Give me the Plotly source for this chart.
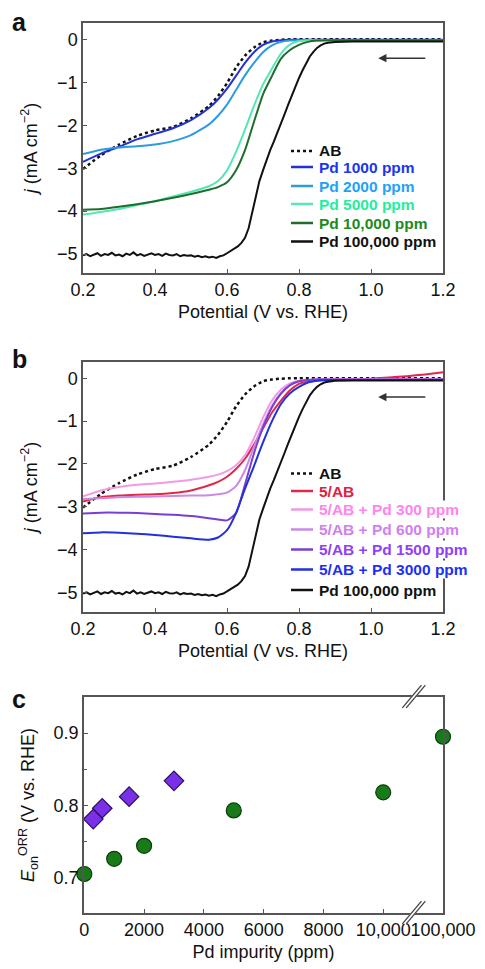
import plotly.graph_objects as go

FONT = "Liberation Sans, Arial, Helvetica, sans-serif"

# shared potential grid (V vs RHE) for the smooth LSV curves
V = [0.20, 0.25, 0.30, 0.35, 0.40, 0.45, 0.50, 0.55, 0.575, 0.60, 0.625, 0.65, 0.675,
     0.70, 0.725, 0.75, 0.775, 0.80, 0.825, 0.85, 0.875, 0.90, 0.95, 1.00, 1.05, 1.10,
     1.15, 1.20]

# panel a
j_AB = [-3.02, -2.70, -2.45, -2.25, -2.12, -2.04, -1.84, -1.55, -1.32, -1.02, -0.66, -0.38,
        -0.19, -0.07, -0.03, -0.01, 0.0, 0.0, 0.0, 0.0, 0.0, 0.0, 0.0, 0.0, 0.0, 0.0, 0.0, 0.0]
j_Pd1000 = [-2.85, -2.66, -2.50, -2.33, -2.20, -2.07, -1.88, -1.60, -1.40, -1.15, -0.85, -0.55,
            -0.30, -0.13, -0.05, -0.02, -0.01, -0.01, -0.01, -0.01, -0.01, -0.01, -0.01,
            -0.01, -0.01, -0.01, -0.01, -0.01]
j_Pd2000 = [-2.67, -2.57, -2.52, -2.49, -2.45, -2.37, -2.23, -1.98, -1.78, -1.52, -1.18, -0.84,
            -0.55, -0.30, -0.14, -0.06, -0.03, -0.02, -0.02, -0.02, -0.02, -0.02, -0.02,
            -0.02, -0.02, -0.02, -0.02, -0.02]
j_Pd5000 = [-4.08, -4.02, -3.95, -3.86, -3.77, -3.66, -3.55, -3.42, -3.30, -3.05, -2.62, -2.10,
            -1.55, -1.05, -0.68, -0.33, -0.12, -0.04, -0.02, -0.02, -0.02, -0.02, -0.02,
            -0.02, -0.02, -0.02, -0.02, -0.02]
j_Pd10000 = [-3.97, -3.95, -3.90, -3.84, -3.77, -3.69, -3.60, -3.50, -3.44, -3.33, -3.05, -2.58,
             -1.92, -1.28, -0.85, -0.45, -0.25, -0.13, -0.06, -0.03, -0.02, -0.02, -0.02,
             -0.02, -0.02, -0.02, -0.02, -0.02]

# Pd 100,000 ppm (noisy plateau, used in a and b)
V_Pd100k = [0.20, 0.21, 0.22, 0.23, 0.24, 0.25, 0.26, 0.27, 0.28, 0.29, 0.30, 0.31, 0.32, 0.33,
            0.34, 0.35, 0.36, 0.37, 0.38, 0.39, 0.40, 0.41, 0.42, 0.43, 0.44, 0.45, 0.46, 0.47,
            0.48, 0.49, 0.50, 0.51, 0.52, 0.53, 0.54, 0.55, 0.56, 0.57, 0.58, 0.59, 0.60, 0.61,
            0.62, 0.63, 0.64, 0.65, 0.66, 0.67, 0.68, 0.69, 0.70, 0.71, 0.72, 0.73, 0.74, 0.75,
            0.76, 0.77, 0.78, 0.79, 0.80, 0.81, 0.82, 0.83, 0.84, 0.85, 0.86, 0.87, 0.88, 0.90,
            0.95, 1.00, 1.10, 1.20]
j_Pd100k = [-5.03, -5.00, -5.05, -5.01, -4.98, -5.04, -5.00, -5.02, -4.97, -5.03, -5.01, -5.05,
            -4.99, -5.02, -4.96, -5.03, -5.00, -5.04, -5.01, -4.98, -5.02, -5.00, -5.04, -4.99,
            -5.02, -5.03, -5.00, -5.05, -5.02, -5.04, -5.03, -5.06, -5.04, -5.07, -5.05, -5.08,
            -5.06, -5.09, -5.05, -5.03, -4.98, -4.93, -4.88, -4.82, -4.74, -4.62, -4.40, -4.05,
            -3.65, -3.30, -3.05, -2.80, -2.58, -2.38, -2.15, -1.95, -1.74, -1.52, -1.30, -1.10,
            -0.90, -0.72, -0.55, -0.40, -0.29, -0.20, -0.14, -0.10, -0.08, -0.06, -0.05, -0.05,
            -0.05, -0.05]

# panel b
j_5AB = [-2.88, -2.78, -2.74, -2.72, -2.71, -2.68, -2.62, -2.50, -2.42, -2.30, -2.12, -1.88,
         -1.55, -1.17, -0.80, -0.52, -0.28, -0.13, -0.07, -0.05, -0.04, -0.04, -0.03, -0.01,
         0.02, 0.05, 0.09, 0.14]
j_5AB_300 = [-2.76, -2.62, -2.54, -2.49, -2.46, -2.42, -2.37, -2.30, -2.25, -2.17, -2.03, -1.80,
             -1.40, -0.92, -0.52, -0.26, -0.12, -0.06, -0.04, -0.03, -0.03, -0.02, -0.02,
             -0.02, -0.02, -0.02, -0.02, -0.02]
j_5AB_600 = [-2.82, -2.80, -2.78, -2.77, -2.76, -2.75, -2.74, -2.73, -2.71, -2.67, -2.52, -2.15,
             -1.60, -1.08, -0.64, -0.34, -0.16, -0.07, -0.04, -0.03, -0.03, -0.03, -0.03,
             -0.03, -0.03, -0.03, -0.03, -0.03]
j_5AB_1500 = [-3.16, -3.14, -3.14, -3.15, -3.17, -3.19, -3.22, -3.27, -3.30, -3.32, -3.15, -2.48,
              -1.75, -1.15, -0.68, -0.36, -0.16, -0.07, -0.04, -0.03, -0.03, -0.03, -0.03,
              -0.03, -0.03, -0.03, -0.03, -0.03]
j_5AB_3000 = [-3.62, -3.60, -3.61, -3.63, -3.66, -3.70, -3.74, -3.77, -3.72, -3.55, -3.15, -2.58,
              -2.05, -1.50, -1.00, -0.60, -0.35, -0.20, -0.10, -0.06, -0.04, -0.04, -0.04,
              -0.04, -0.04, -0.04, -0.04, -0.04]

# panel c: onset potentials
ppm_Pd = [0, 1000, 2000, 5000, 10000, 100000]
E_Pd = [0.705, 0.726, 0.744, 0.793, 0.818, 0.895]
ppm_5AB = [300, 600, 1500, 3000]
E_5AB = [0.781, 0.796, 0.812, 0.834]
c_ticks = [0, 2000, 4000, 6000, 8000, 10000, 100000]
c_ticktext = ["0", "2000", "4000", "6000", "8000", "10,000", "100,000"]


def broken_x(p):
    # axis is broken after 10,000: 100,000 sits one 2000-step further along
    return p if p <= 10000 else 12000


W, H = 485, 969

fig = go.Figure()

# (label, x, y, line colour, label colour, dash, legend row y in px)
series_a = [
    ("AB", V, j_AB, "#111111", "#111111", "dot", 151),
    ("Pd 1000 ppm", V, j_Pd1000, "#2233d6", "#1a36f0", "solid", 167),
    ("Pd 2000 ppm", V, j_Pd2000, "#2c9be0", "#1ea2f6", "solid", 186),
    ("Pd 5000 ppm", V, j_Pd5000, "#55e6b4", "#22ee9c", "solid", 204),
    ("Pd 10,000 ppm", V, j_Pd10000, "#1d6e2c", "#1c8a1c", "solid", 223),
    ("Pd 100,000 ppm", V_Pd100k, j_Pd100k, "#111111", "#111111", "solid", 241.5),
]
series_b = [
    ("AB", V, j_AB, "#111111", "#111111", "dot", 473.5),
    ("5/AB", V, j_5AB, "#e0284a", "#e0203c", "solid", 491),
    ("5/AB + Pd 300 ppm", V, j_5AB_300, "#f29ae6", "#ff84ee", "solid", 509.5),
    ("5/AB + Pd 600 ppm", V, j_5AB_600, "#c98ae4", "#d080f0", "solid", 529.5),
    ("5/AB + Pd 1500 ppm", V, j_5AB_1500, "#7a3ed2", "#9040f8", "solid", 549.5),
    ("5/AB + Pd 3000 ppm", V, j_5AB_3000, "#2030dc", "#1a30f8", "solid", 569.5),
    ("Pd 100,000 ppm", V_Pd100k, j_Pd100k, "#111111", "#111111", "solid", 590),
]

for series, xa, ya, bg in [(series_a, "x", "y", "rgba(0,0,0,0)"),
                           (series_b, "x2", "y2", "white")]:
    for name, xs, ys, col, tcol, dash, row in series:
        fig.add_trace(go.Scatter(
            x=xs, y=ys, mode="lines", showlegend=False,
            line=dict(color=col, width=2.5 if dash == "dot" else 2, dash=dash,
                      shape="linear" if xs is V_Pd100k else "spline", smoothing=0.6),
            xaxis=xa, yaxis=ya))
        # hand-made legend row: line sample + coloured bold label
        fig.add_shape(type="line", xref="paper", yref="paper", x0=291 / W, x1=313 / W,
                      y0=1 - row / H, y1=1 - row / H, layer="above",
                      line=dict(color=col, width=2.5, dash=dash))
        fig.add_annotation(x=318 / W, y=1 - row / H, xref="paper", yref="paper",
                           xanchor="left", yanchor="middle", showarrow=False,
                           text="<b>%s</b>" % name, bgcolor=bg, borderpad=0,
                           font=dict(family=FONT, size=15.5, color=tcol))

fig.add_trace(go.Scatter(
    x=[broken_x(p) for p in ppm_5AB], y=E_5AB, mode="markers", showlegend=False,
    marker=dict(symbol="diamond", size=15, color="#7a30e6",
                line=dict(color="#2a1060", width=1.2)),
    cliponaxis=False, xaxis="x3", yaxis="y3"))
fig.add_trace(go.Scatter(
    x=[broken_x(p) for p in ppm_Pd], y=E_Pd, mode="markers", showlegend=False,
    marker=dict(symbol="circle", size=15, color="#187a18",
                line=dict(color="#0b3d0b", width=1.2)),
    cliponaxis=False, xaxis="x3", yaxis="y3"))


def xdom(l, r):
    return [l / W, r / W]


def ydom(top, bot):
    return [1 - bot / H, 1 - top / H]


axis_common = dict(showline=True, mirror=True, linecolor="#555555", linewidth=1.5,
                   ticks="inside", ticklen=4, tickcolor="#555555", showgrid=False,
                   zeroline=False, tickangle=0, automargin=False,
                   tickfont=dict(family=FONT, size=18, color="#111"),
                   title_font=dict(family=FONT, size=18, color="#111"))

fig.update_layout(
    width=W, height=H, margin=dict(l=0, r=0, t=0, b=0),
    paper_bgcolor="white", plot_bgcolor="white",
    font=dict(family=FONT, color="#111"), showlegend=False,
    xaxis=dict(domain=xdom(83, 443), anchor="y", range=[0.2, 1.2], dtick=0.2,
               tickformat=".1f", title=dict(text="Potential (V vs. RHE)", standoff=6),
               **axis_common),
    yaxis=dict(domain=ydom(23, 273), anchor="x", range=[-5.44, 0.38], dtick=1,
               title=dict(text="<i>j</i> (mA cm<sup>−2</sup>)", standoff=15), **axis_common),
    xaxis2=dict(domain=xdom(83, 443), anchor="y2", range=[0.2, 1.2], dtick=0.2,
                tickformat=".1f", title=dict(text="Potential (V vs. RHE)", standoff=6),
                **axis_common),
    yaxis2=dict(domain=ydom(362, 612), anchor="x2", range=[-5.46, 0.38], dtick=1,
                title=dict(text="<i>j</i> (mA cm<sup>−2</sup>)", standoff=15), **axis_common),
    xaxis3=dict(domain=xdom(84, 443), anchor="y3", range=[-10, 12000],
                tickvals=[broken_x(p) for p in c_ticks], ticktext=c_ticktext,
                title=dict(text="Pd impurity (ppm)", standoff=6), **axis_common),
    yaxis3=dict(domain=ydom(697, 913), anchor="x3", range=[0.651, 0.95],
                tickvals=[0.7, 0.8, 0.9], ticktext=["0.7", "0.8", "0.9"],
                minor=dict(tickvals=[0.75, 0.85], ticks="inside", ticklen=3,
                           tickcolor="#555555"),
                title=dict(text="<i>E</i><sub>on</sub><sup>ORR</sup> (V vs. RHE)", standoff=14),
                **axis_common),
)

# scan direction arrows
for xr, yr in [("x", "y"), ("x2", "y2")]:
    fig.add_annotation(x=1.02, y=-0.44, ax=1.155, ay=-0.44, xref=xr, yref=yr,
                       axref=xr, ayref=yr, text="", showarrow=True, arrowhead=2,
                       arrowsize=1.1, arrowwidth=1.5, arrowcolor="#333333")

# panel letters
for letter, ytop in [("a", 6), ("b", 343), ("c", 683)]:
    fig.add_annotation(x=10 / W, y=1 - ytop / H, xref="paper", yref="paper",
                       xanchor="left", yanchor="top", text="<b>%s</b>" % letter,
                       showarrow=False, font=dict(family=FONT, size=25, color="#111"))

# axis break marks on panel c
for y0, y1 in [(0.95, 1.055), (-0.05, 0.055)]:
    fig.add_shape(type="line", xref="x3", yref="y3 domain", x0=10700, x1=11350,
                  y0=y0, y1=y1, line=dict(color="white", width=4))
    for dx in [0, 130]:
        fig.add_shape(type="line", xref="x3", yref="y3 domain", x0=10640 + dx,
                      x1=11280 + dx, y0=y0, y1=y1,
                      line=dict(color="#444444", width=1.3))

fig.write_html("out.html", config={"displayModeBar": False},
               post_script="document.body.style.margin='0';")
